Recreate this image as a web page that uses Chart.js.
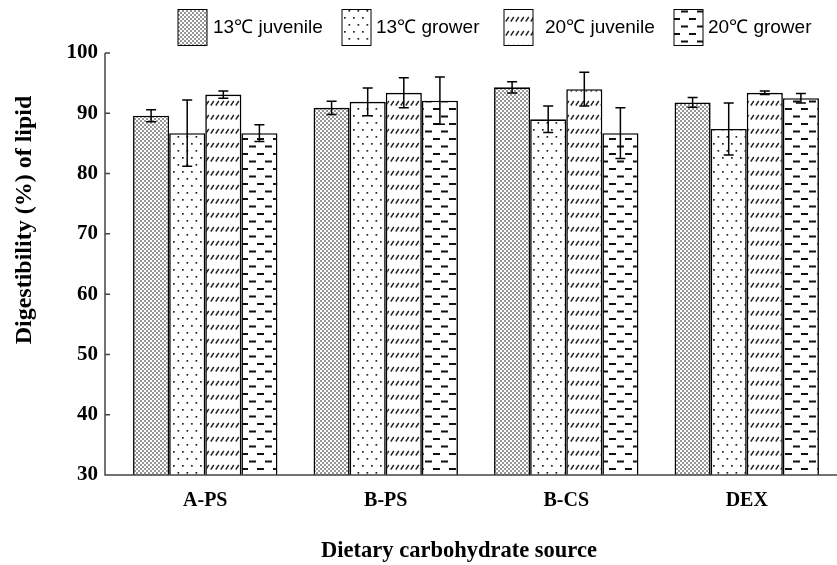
<!DOCTYPE html>
<html>
<head>
<meta charset="utf-8">
<script src="https://cdn.jsdelivr.net/npm/chart.js@4/dist/chart.umd.min.js"></script>
<style>
  body { margin: 0; background: #fff; }
  #wrap { width: 837px; height: 565px; }
</style>
</head>
<body>
<div id="wrap"><canvas id="chart" width="837" height="565"></canvas></div>
<script>
const categories = ["A-PS", "B-PS", "B-CS", "DEX"];
const seriesNames = ["13\u2103 juvenile", "13\u2103 grower", "20\u2103 juvenile", "20\u2103 grower"];
const juv13 = [89.6, 90.9, 94.3, 91.8];
const grow13 = [86.7, 91.9, 89.0, 87.4];
const juv20 = [93.1, 93.4, 94.0, 93.4];
const grow20 = [86.7, 92.1, 86.7, 92.5];
const juv13Err = [1.0, 1.1, 0.95, 0.8];
const grow13Err = [5.5, 2.3, 2.2, 4.3];
const juv20Err = [0.6, 2.5, 2.8, 0.3];
const grow20Err = [1.4, 3.9, 4.2, 0.8];
const yTicks = [30, 40, 50, 60, 70, 80, 90, 100];

const ctx = document.getElementById("chart").getContext("2d");

function makePattern(w, h, draw) {
  const c = document.createElement("canvas");
  c.width = w;
  c.height = h;
  const g = c.getContext("2d");
  g.fillStyle = "#fff";
  g.fillRect(0, 0, w, h);
  draw(g);
  return ctx.createPattern(c, "repeat");
}

// fine stipple
const densePattern = makePattern(4, 4, (g) => {
  g.fillStyle = "#6a6a6a";
  g.beginPath(); g.arc(1, 1, 0.95, 0, Math.PI * 2); g.fill();
  g.beginPath(); g.arc(3, 3, 0.95, 0, Math.PI * 2); g.fill();
});
// sparse dots
const sparsePattern = makePattern(9, 14, (g) => {
  g.fillStyle = "#222";
  g.fillRect(2, 3, 1.7, 1.7);
  g.fillRect(6.5, 10, 1.7, 1.7);
});
// rows of little slashes
const slashPattern = makePattern(5, 14, (g) => {
  g.strokeStyle = "#222";
  g.lineWidth = 1.4;
  g.beginPath(); g.moveTo(0.8, 7.5); g.lineTo(3.8, 3); g.stroke();
});
// staggered dashes
const dashPattern = makePattern(16, 15, (g) => {
  g.fillStyle = "#111";
  g.fillRect(1, 3, 7, 2);
  g.fillRect(9, 10.5, 7, 2);
});

const patterns = [densePattern, sparsePattern, slashPattern, dashPattern];
const values = [juv13, grow13, juv20, grow20];
const errors = [juv13Err, grow13Err, juv20Err, grow20Err];

const datasets = seriesNames.map((name, i) => ({
  label: name,
  data: values[i],
  backgroundColor: patterns[i],
  borderColor: "#000",
  borderWidth: 1.6,
  barPercentage: 1.0,
  categoryPercentage: 0.8,
}));

const extrasPlugin = {
  id: "extras",
  afterDatasetsDraw(chart) {
    const c = chart.ctx;
    const y = chart.scales.y;
    // error bars
    c.save();
    c.strokeStyle = "#000";
    c.lineWidth = 1.5;
    chart.data.datasets.forEach((ds, i) => {
      const meta = chart.getDatasetMeta(i);
      meta.data.forEach((bar, j) => {
        const v = ds.data[j];
        const e = errors[i][j];
        const top = y.getPixelForValue(v + e);
        const bot = y.getPixelForValue(v - e);
        c.beginPath();
        c.moveTo(bar.x, top); c.lineTo(bar.x, bot);
        c.moveTo(bar.x - 5, top); c.lineTo(bar.x + 5, top);
        c.moveTo(bar.x - 5, bot); c.lineTo(bar.x + 5, bot);
        c.stroke();
      });
    });
    c.restore();
  },
  afterDraw(chart) {
    const c = chart.ctx;
    const area = chart.chartArea;
    const y = chart.scales.y;
    const axisX = area.left - 10;
    c.save();
    // axes
    c.strokeStyle = "#444";
    c.lineWidth = 1.5;
    c.beginPath();
    c.moveTo(axisX, area.top);
    c.lineTo(axisX, area.bottom);
    c.lineTo(area.right, area.bottom);
    yTicks.forEach((t) => {
      const py = y.getPixelForValue(t);
      c.moveTo(axisX, py);
      c.lineTo(axisX + 5, py);
    });
    c.stroke();

    // legend
    const boxX = [178, 342, 504, 674];
    const textX = [213, 376, 545, 708];
    c.font = "19px 'Liberation Sans', Arial, sans-serif";
    c.textBaseline = "middle";
    c.textAlign = "left";
    chart.data.datasets.forEach((ds, i) => {
      c.fillStyle = ds.backgroundColor;
      c.fillRect(boxX[i], 9.5, 29, 36);
      c.strokeStyle = "#000";
      c.lineWidth = 1;
      c.strokeRect(boxX[i], 9.5, 29, 36);
      c.fillStyle = "#000";
      c.fillText(ds.label, textX[i], 28);
    });

    // axis titles
    c.font = "bold 24px 'Liberation Serif', 'Times New Roman', serif";
    c.textAlign = "center";
    c.fillStyle = "#000";
    c.save();
    c.translate(25, 220);
    c.rotate(-Math.PI / 2);
    c.fillText("Digestibility (%) of lipid", 0, 0);
    c.restore();
    c.font = "bold 22.5px 'Liberation Serif', 'Times New Roman', serif";
    c.fillText("Dietary carbohydrate source", 459, 551);
    c.restore();
  },
};

new Chart(ctx, {
  type: "bar",
  data: { labels: categories, datasets: datasets },
  options: {
    responsive: false,
    animation: false,
    events: [],
    layout: { padding: { top: 53, left: 0, right: 0, bottom: 0 } },
    plugins: {
      legend: { display: false },
      tooltip: { enabled: false },
    },
    scales: {
      x: {
        grid: { display: false, drawTicks: false },
        border: { display: false },
        ticks: {
          color: "#000",
          padding: 14,
          font: { family: "'Liberation Serif', 'Times New Roman', serif", size: 20, weight: "bold" },
        },
        afterFit: (scale) => { scale.height = 90; },
      },
      y: {
        min: 30,
        max: 100,
        grid: { display: false, drawTicks: false },
        border: { display: false },
        ticks: {
          stepSize: 10,
          color: "#000",
          padding: 17,
          font: { family: "'Liberation Serif', 'Times New Roman', serif", size: 21, weight: "bold" },
        },
        afterFit: (scale) => { scale.width = 115; },
      },
    },
  },
  plugins: [extrasPlugin],
});
</script>
</body>
</html>
